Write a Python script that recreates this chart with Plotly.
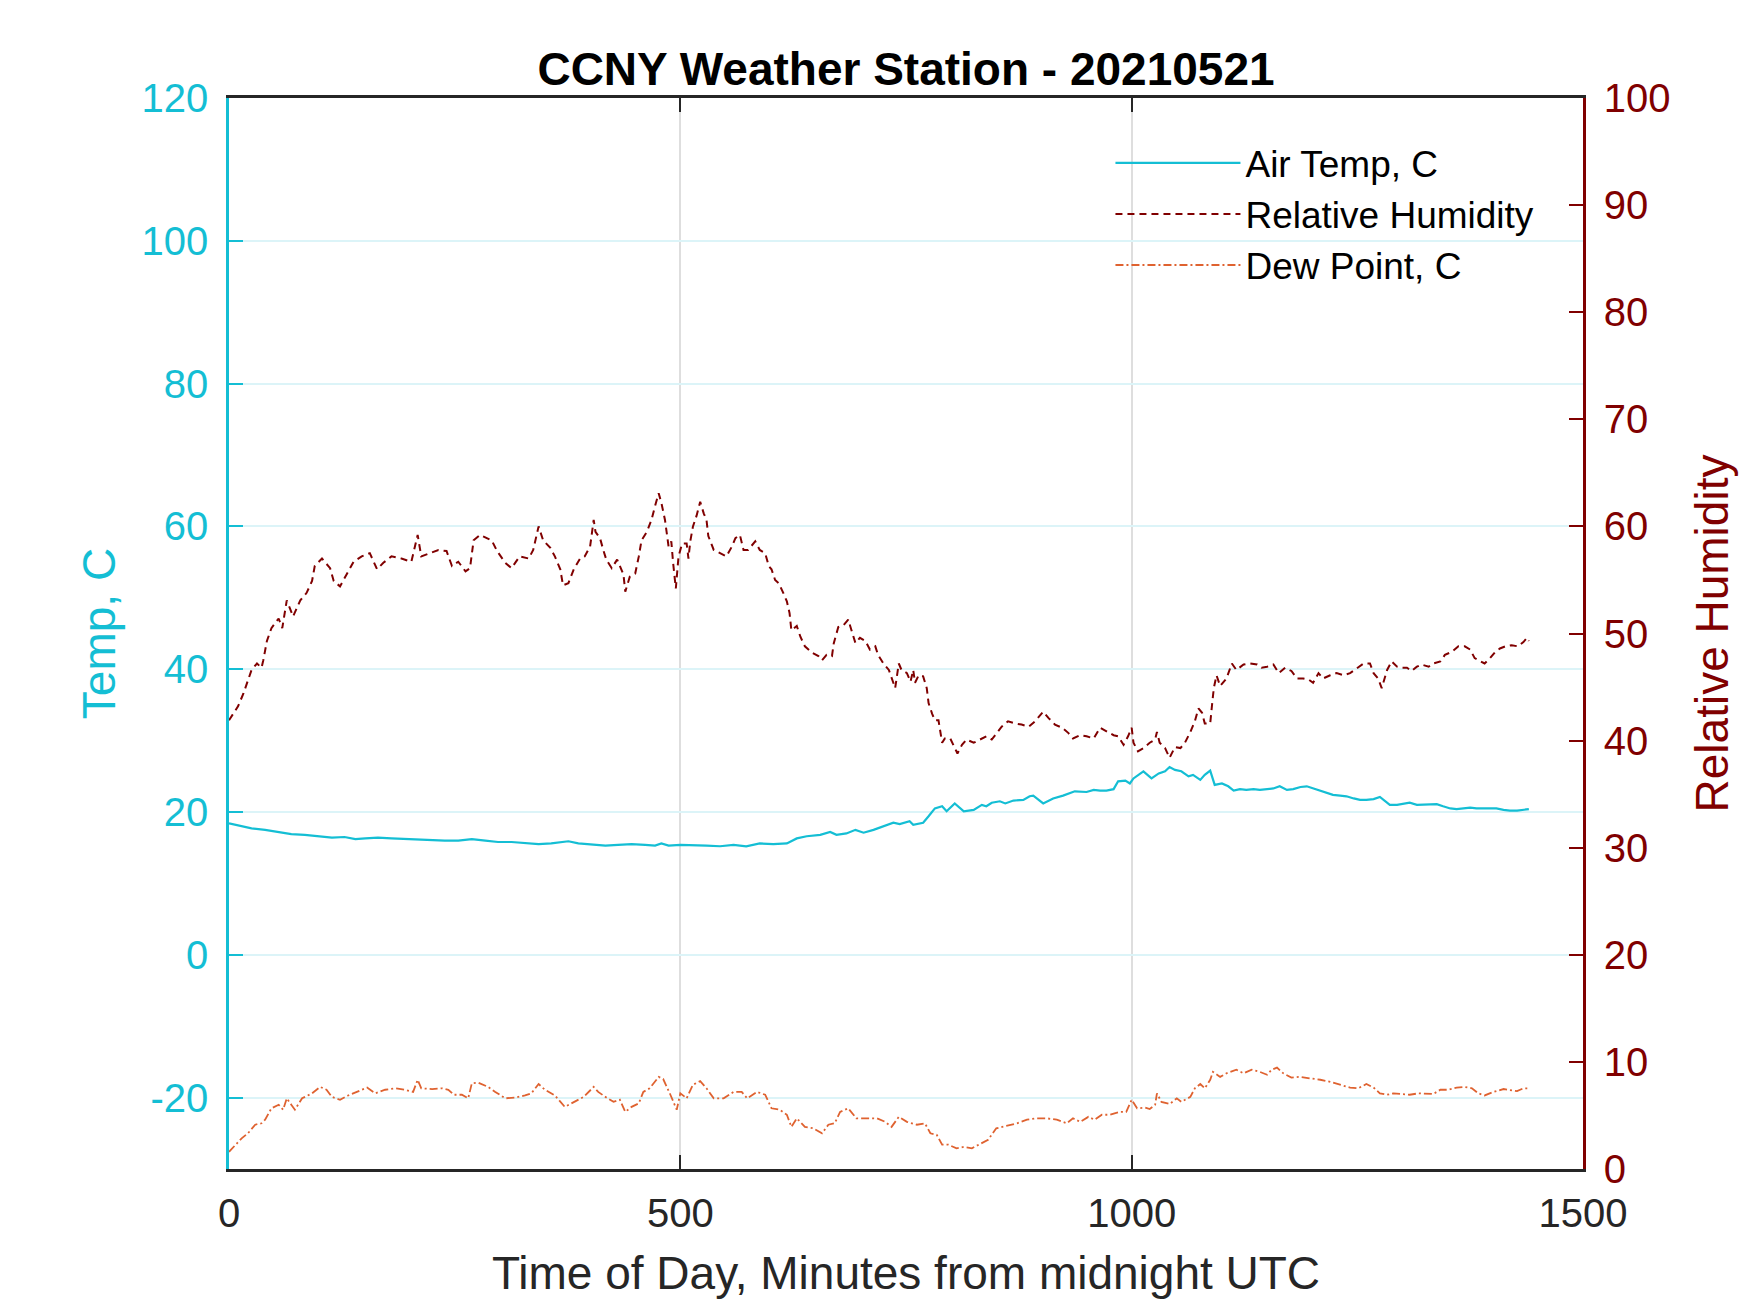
import plotly.graph_objects as go

# minutes from midnight UTC
temp_min = [0, 10, 25, 40, 55, 69, 84, 99, 114, 128, 140, 151, 165, 180, 195, 210, 225, 239, 254, 269,
            284, 298, 313, 328, 343, 357, 376, 387, 402, 417, 431, 446, 461, 472, 479, 487, 500, 514, 529, 544,
            559, 573, 588, 603, 618, 629, 640, 655, 666, 673, 684, 694, 703, 714, 725, 736, 743, 754, 758, 769,
            775, 782, 790, 795, 804, 814, 825, 834, 839, 845, 854, 860, 869, 880, 887, 891, 902, 913, 924, 937,
            950, 958, 965, 972, 980, 985, 993, 998, 1002, 1007, 1013, 1022, 1030, 1037, 1042, 1048, 1055, 1063,
            1068, 1076, 1081, 1087, 1092, 1100, 1107, 1113, 1120, 1127, 1135, 1142, 1150, 1157, 1164, 1172,
            1179, 1187, 1194, 1201, 1209, 1216, 1223, 1231, 1238, 1246, 1253, 1260, 1268, 1275, 1281, 1286,
            1294, 1301, 1308, 1316, 1323, 1331, 1338, 1345, 1353, 1360, 1367, 1375, 1382, 1390, 1397, 1404,
            1412, 1419, 1427, 1434, 1440]
air_temp = [18.4, 18.1, 17.7, 17.5, 17.2, 16.9, 16.8, 16.6, 16.4, 16.5, 16.2, 16.3, 16.4, 16.3, 16.2, 16.2,
            16.1, 16.0, 16.0, 16.2, 16.0, 15.8, 15.8, 15.7, 15.5, 15.6, 15.9, 15.6, 15.4, 15.3, 15.4, 15.5,
            15.4, 15.3, 15.6, 15.3, 15.4, 15.4, 15.3, 15.2, 15.4, 15.2, 15.6, 15.5, 15.6, 16.3, 16.6, 16.8,
            17.2, 16.8, 17.0, 17.5, 17.1, 17.5, 18.0, 18.5, 18.3, 18.7, 18.2, 18.5, 19.4, 20.5, 20.8, 20.1,
            21.2, 20.1, 20.3, 21.0, 20.8, 21.3, 21.5, 21.2, 21.6, 21.7, 22.2, 22.3, 21.2, 21.9, 22.3, 22.9,
            22.8, 23.1, 23.0, 23.0, 23.2, 24.3, 24.4, 24.0, 24.7, 25.2, 25.7, 24.7, 25.4, 25.7, 26.3, 25.9,
            25.7, 25.0, 25.2, 24.5, 25.2, 25.8, 23.8, 24.0, 23.6, 23.0, 23.2, 23.1, 23.2, 23.1, 23.2, 23.3,
            23.6, 23.1, 23.2, 23.5, 23.6, 23.3, 23.0, 22.6, 22.4, 22.3, 22.2, 21.9, 21.7, 21.7, 21.8, 22.1,
            21.5, 21.0, 21.0, 21.1, 21.3, 21.0, 21.0, 21.1, 21.1, 20.8, 20.5, 20.4, 20.5, 20.6, 20.5, 20.5,
            20.5, 20.5, 20.3, 20.2, 20.2, 20.3, 20.4]

rh_min = [0, 10, 16, 21, 25, 31, 36, 38, 42, 47, 55, 59, 64, 71, 79, 86, 92, 95, 103, 112, 116, 123, 129,
          138, 147, 156, 164, 171, 180, 191, 202, 209, 213, 223, 232, 241, 247, 254, 262, 267, 271, 278, 291,
          297, 306, 313, 322, 332, 337, 343, 348, 356, 361, 367, 370, 376, 382, 389, 394, 400, 404, 406, 411,
          415, 418, 424, 430, 437, 439, 444, 450, 454, 457, 463, 468, 472, 476, 479, 483, 487, 490, 492, 495,
          498, 502, 507, 509, 511, 514, 518, 522, 526, 529, 531, 537, 544, 551, 557, 561, 566, 570, 575, 583,
          588, 594, 598, 601, 605, 609, 614, 618, 621, 623, 629, 633, 638, 646, 653, 657, 662, 668, 670, 675,
          681, 686, 690, 694, 699, 705, 710, 716, 719, 725, 731, 736, 738, 742, 745, 751, 755, 758, 760, 764,
          769, 773, 775, 779, 782, 786, 790, 793, 799, 803, 807, 812, 817, 825, 832, 839, 845, 851, 856, 863,
          871, 878, 886, 893, 902, 908, 915, 923, 930, 935, 943, 950, 958, 965, 972, 980, 985, 991, 996, 1000,
          1002, 1007, 1013, 1020, 1026, 1028, 1031, 1037, 1042, 1048, 1054, 1059, 1065, 1070, 1074, 1078,
          1081, 1087, 1089, 1091, 1094, 1098, 1105, 1111, 1116, 1124, 1131, 1139, 1144, 1150, 1157, 1163,
          1170, 1177, 1183, 1190, 1196, 1201, 1207, 1212, 1220, 1227, 1235, 1242, 1247, 1257, 1264, 1268,
          1273, 1277, 1283, 1288, 1294, 1299, 1305, 1310, 1316, 1321, 1329, 1334, 1342, 1347, 1355, 1362,
          1369, 1375, 1380, 1386, 1391, 1397, 1403, 1408, 1414, 1421, 1428, 1434, 1438, 1440]
rel_hum = [41.9, 43.2, 44.4, 45.7, 46.6, 47.2, 46.8, 47.5, 49.3, 50.5, 51.4, 50.5, 53.1, 51.6, 53.1, 53.8,
           54.9, 56.3, 57.0, 56.1, 54.9, 54.4, 55.3, 56.7, 57.2, 57.5, 56.0, 56.6, 57.2, 57.0, 56.7, 59.2,
           57.2, 57.5, 57.8, 57.7, 56.3, 56.7, 55.8, 56.1, 58.7, 59.2, 58.7, 57.7, 56.6, 56.1, 57.2, 57.0,
           57.8, 60.0, 58.7, 58.0, 57.2, 56.0, 54.5, 54.7, 56.0, 57.0, 57.2, 58.1, 60.6, 59.5, 58.9, 57.7,
           56.9, 56.1, 56.9, 55.5, 53.9, 55.3, 55.6, 57.2, 58.7, 59.5, 60.6, 61.9, 63.1, 62.2, 60.6, 58.1,
           58.6, 56.6, 54.2, 57.2, 58.4, 58.4, 57.0, 58.6, 60.0, 61.0, 62.3, 61.2, 60.6, 59.1, 57.8, 57.5,
           57.2, 58.1, 58.9, 59.2, 57.8, 57.8, 58.6, 57.8, 57.5, 56.3, 56.0, 55.0, 54.7, 53.8, 53.0, 51.9,
           50.3, 50.7, 49.7, 48.8, 48.2, 47.9, 47.5, 48.0, 47.9, 49.1, 50.6, 50.8, 51.3, 50.2, 49.1, 49.6,
           49.3, 48.5, 48.8, 48.0, 47.2, 46.6, 45.4, 44.9, 47.2, 46.6, 46.3, 45.5, 46.6, 45.4, 46.1, 46.0,
           44.9, 43.5, 42.5, 41.9, 41.9, 39.8, 40.2, 40.2, 39.5, 38.8, 39.6, 40.1, 39.8, 40.1, 40.4, 40.1,
           40.8, 41.3, 41.8, 41.6, 41.5, 41.3, 41.8, 42.7, 42.1, 41.5, 41.2, 40.7, 40.2, 40.5, 40.4, 40.2,
           41.2, 40.9, 40.5, 40.4, 39.6, 40.4, 41.2, 39.8, 39.0, 39.3, 39.8, 40.1, 40.8, 39.8, 39.3, 38.4,
           39.4, 39.3, 39.8, 40.8, 41.8, 43.0, 42.6, 41.6, 41.6, 43.3, 44.9, 46.1, 45.1, 45.8, 47.2, 46.6,
           47.1, 47.2, 47.1, 46.8, 46.9, 47.1, 46.3, 46.8, 46.5, 45.8, 45.8, 45.7, 45.4, 46.3, 45.8, 46.1,
           46.3, 46.1, 46.3, 46.6, 47.2, 47.2, 46.3, 45.8, 44.9, 46.6, 47.4, 46.9, 46.8, 46.8, 46.5, 46.9,
           47.1, 46.9, 47.2, 47.4, 48.0, 48.3, 48.8, 48.8, 48.5, 47.7, 47.4, 47.2, 47.7, 48.3, 48.6, 48.8,
           48.9, 48.8, 49.2, 49.6, 49.3]

dew_min = [0, 7, 14, 21, 29, 36, 40, 47, 55, 60, 64, 69, 73, 81, 92, 101, 108, 114, 123, 132, 143, 153, 162,
           173, 184, 195, 204, 209, 213, 225, 236, 243, 249, 258, 265, 269, 276, 287, 295, 306, 317, 328, 335,
           343, 350, 361, 372, 382, 393, 404, 409, 417, 426, 433, 439, 446, 454, 459, 466, 476, 481, 489, 496,
           500, 507, 514, 522, 529, 537, 548, 559, 568, 574, 585, 594, 601, 610, 618, 623, 629, 638, 647, 657,
           664, 671, 677, 686, 695, 706, 718, 727, 734, 742, 751, 762, 771, 777, 784, 790, 797, 806, 814, 823,
           832, 841, 850, 862, 873, 884, 895, 906, 917, 928, 935, 943, 952, 959, 967, 976, 987, 994, 1000,
           1006, 1015, 1020, 1026, 1028, 1033, 1042, 1050, 1055, 1065, 1070, 1076, 1081, 1087, 1090, 1098,
           1105, 1116, 1124, 1133, 1142, 1150, 1155, 1161, 1168, 1177, 1186, 1198, 1209, 1220, 1231, 1242,
           1251, 1260, 1268, 1275, 1283, 1290, 1299, 1308, 1318, 1327, 1334, 1342, 1351, 1360, 1369, 1377,
           1384, 1391, 1401, 1412, 1419, 1427, 1434, 1440]
dew_point = [-27.6, -26.6, -25.7, -25.0, -23.8, -23.6, -23.1, -21.5, -21.0, -21.7, -20.1, -21.0, -21.7, -20.1,
             -19.4, -18.5, -18.9, -19.9, -20.3, -19.7, -19.1, -18.6, -19.4, -18.9, -18.7, -18.9, -19.2, -17.5,
             -18.7, -18.8, -18.7, -18.9, -19.6, -19.6, -20.1, -18.0, -17.9, -18.5, -19.2, -20.1, -20.0, -19.7,
             -19.4, -18.1, -18.9, -19.7, -21.3, -20.6, -19.9, -18.5, -19.2, -19.9, -20.6, -20.3, -22.0, -21.3,
             -20.8, -19.2, -18.7, -17.1, -17.4, -19.6, -21.7, -19.4, -20.1, -18.2, -17.7, -18.7, -20.1, -20.1,
             -19.2, -19.2, -20.1, -19.2, -19.6, -21.5, -21.7, -22.4, -24.1, -22.9, -24.1, -24.3, -25.0, -23.8,
             -23.6, -22.0, -21.5, -22.9, -22.9, -22.9, -23.4, -24.1, -22.7, -23.4, -23.8, -23.6, -25.0, -25.2,
             -26.6, -26.6, -27.1, -26.9, -27.1, -26.5, -25.9, -24.3, -23.9, -23.6, -23.1, -22.9, -22.9, -23.1,
             -23.6, -22.9, -23.4, -22.7, -23.1, -22.4, -22.4, -22.0, -22.0, -20.3, -21.5, -21.4, -21.6, -21.0,
             -19.4, -20.6, -20.9, -20.1, -20.6, -19.9, -18.7, -18.1, -18.7, -17.5, -16.4, -17.1, -16.6, -16.1,
             -16.6, -16.1, -16.4, -16.8, -16.1, -15.8, -16.6, -17.2, -17.1, -17.3, -17.5, -17.8, -18.2, -18.6,
             -18.7, -18.1, -18.6, -19.4, -19.6, -19.4, -19.5, -19.6, -19.4, -19.4, -19.5, -18.9, -18.9, -18.6,
             -18.5, -18.7, -19.4, -19.7, -19.2, -18.8, -18.9, -19.1, -18.7, -18.7]

# left axis ticks, written with a plain hyphen like the original
temp_ticks = [-20, 0, 20, 40, 60, 80, 100, 120]
temp_tick_text = ["-20", "0", "20", "40", "60", "80", "100", "120"]

CYAN = "#14BED4"
MAROON = "#800000"
ORANGE = "#DF6230"
DARK = "#262626"
FONT = "Arial, Liberation Sans, sans-serif"

fig = go.Figure()

fig.add_trace(go.Scatter(x=temp_min, y=air_temp, mode="lines", name="Air Temp, C",
                         line=dict(color=CYAN, width=2.2)))
fig.add_trace(go.Scatter(x=rh_min, y=rel_hum, mode="lines", name="Relative Humidity", yaxis="y2",
                         line=dict(color=MAROON, width=2.0, dash="7px,5px")))
fig.add_trace(go.Scatter(x=dew_min, y=dew_point, mode="lines", name="Dew Point, C",
                         line=dict(color=ORANGE, width=1.8, dash="8px,3px,2px,3px")))

# the page adds an 8px body margin, so margins are set 8px short on the left/top
fig.update_layout(
    width=1750, height=1313,
    margin=dict(l=221, r=175, t=90, b=152),
    paper_bgcolor="white", plot_bgcolor="white",
    font=dict(family=FONT, size=40, color=DARK),
    title=dict(text="<b>CCNY Weather Station - 20210521</b>", x=0.5, xref="paper", xanchor="center",
               y=1 - 61 / 1313, yref="container", yanchor="middle",
               font=dict(family=FONT, size=46, color="black")),
    showlegend=True,
    legend=dict(x=0.651, y=0.968, xanchor="left", yanchor="top", bgcolor="rgba(0,0,0,0)",
                font=dict(family=FONT, size=37, color="black"), tracegroupgap=0, itemwidth=125),
    xaxis=dict(range=[0, 1500], tick0=0, dtick=500, showgrid=True, gridcolor="#DEDEDE", gridwidth=1.5,
               zeroline=False, showline=True, linecolor=DARK, linewidth=2.5, mirror="ticks",
               ticks="inside", ticklen=14, tickcolor=DARK, tickwidth=2,
               tickfont=dict(size=40, color=DARK), ticklabelstandoff=7,
               title=dict(text="Time of Day, Minutes from midnight UTC", font=dict(size=46, color=DARK),
                          standoff=24)),
    yaxis=dict(range=[-30, 120], tickvals=temp_ticks, ticktext=temp_tick_text,
               showgrid=True, gridcolor="#DCF4F8", gridwidth=1.5,
               zeroline=False, showline=True, linecolor=CYAN, linewidth=2.5,
               ticks="inside", ticklen=14, tickcolor=CYAN, tickwidth=2,
               tickfont=dict(size=40, color=CYAN), ticklabelstandoff=10,
               title=dict(text="Temp, C", font=dict(size=46, color=CYAN), standoff=12)),
    yaxis2=dict(range=[0, 100], tick0=0, dtick=10, overlaying="y", side="right", anchor="x",
                showgrid=False, zeroline=False, showline=True, linecolor=MAROON, linewidth=2.5,
                ticks="inside", ticklen=14, tickcolor=MAROON, tickwidth=2,
                tickfont=dict(size=40, color=MAROON), ticklabelstandoff=10,
                title=dict(text="Relative Humidity", font=dict(size=46, color=MAROON), standoff=27)),
)

fig.write_html("out.html")
